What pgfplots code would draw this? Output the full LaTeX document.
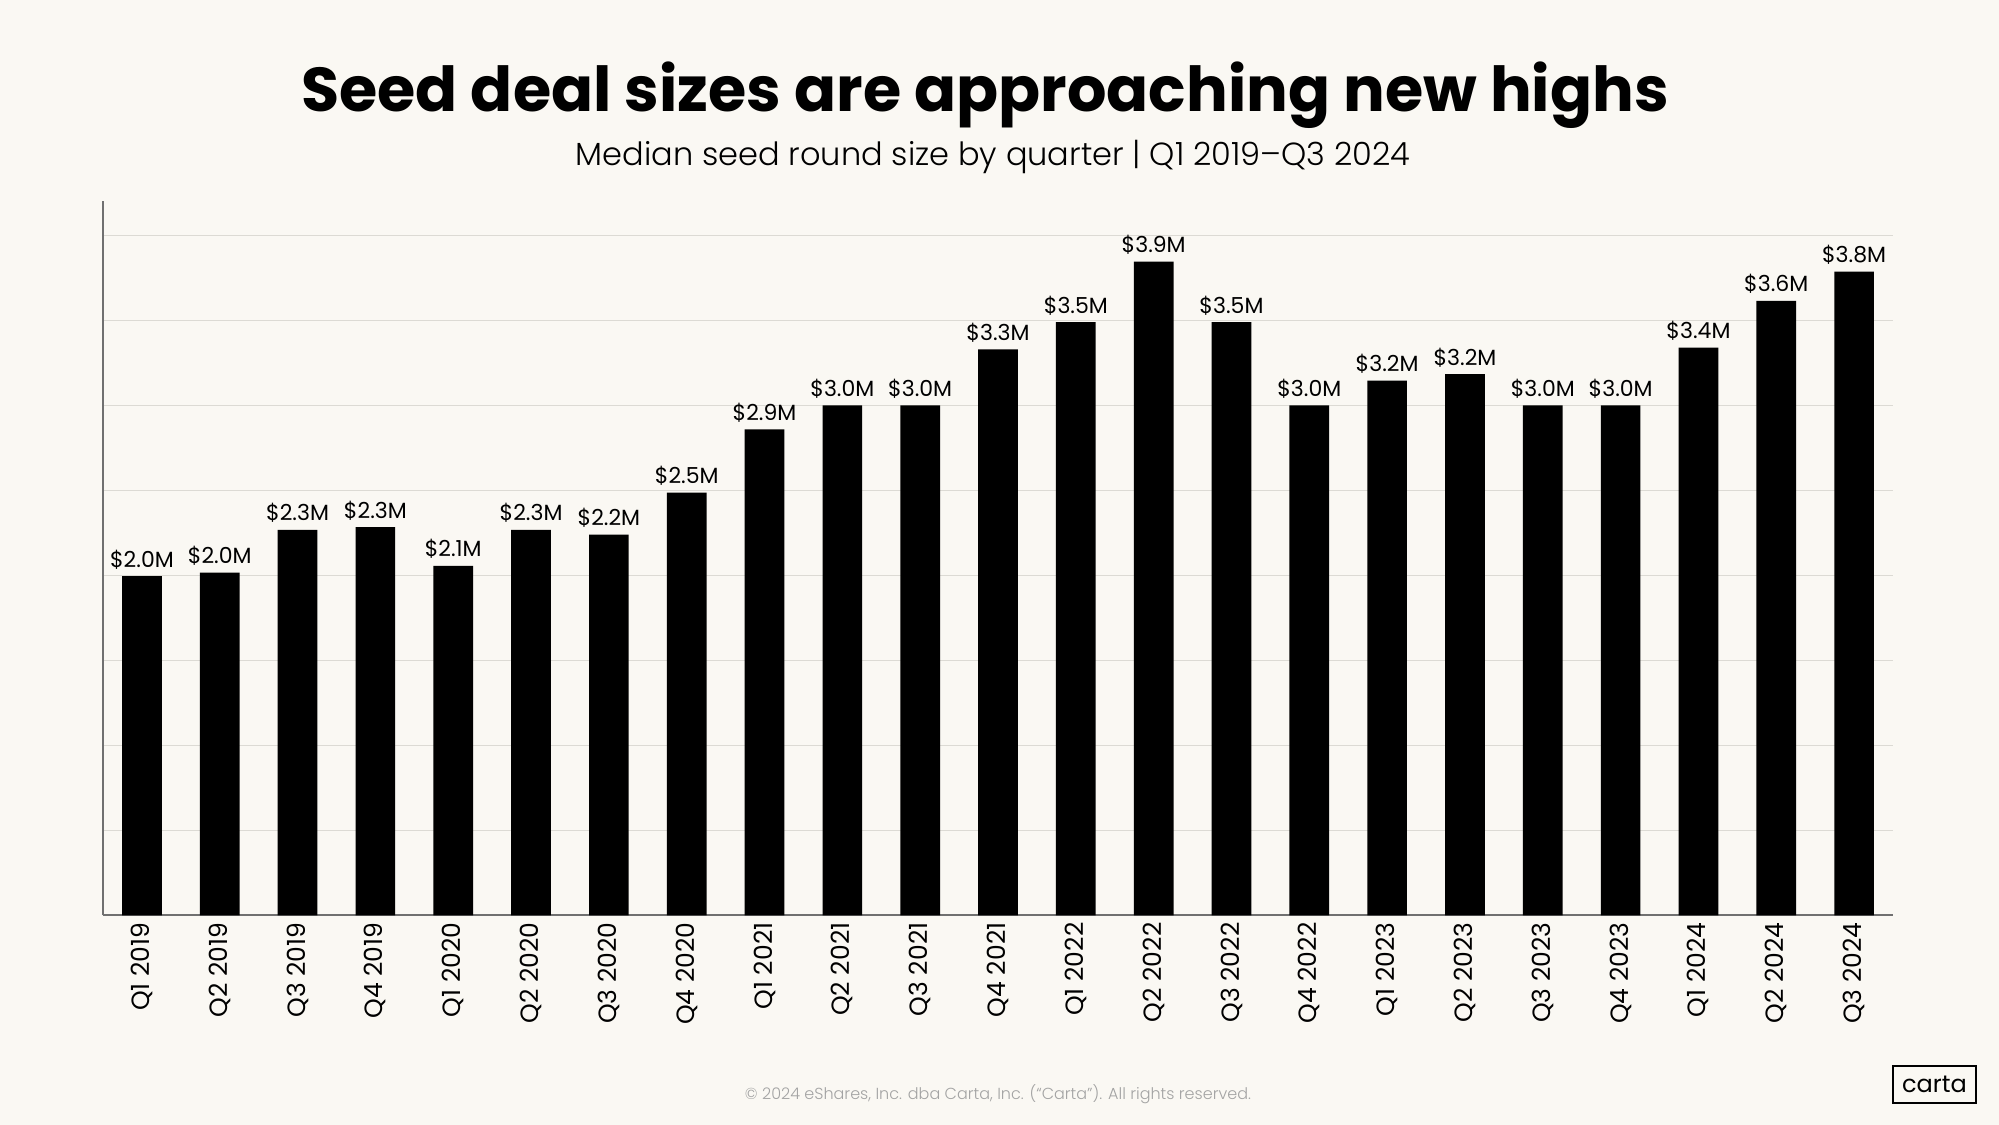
\documentclass[border=0pt]{standalone}
\usepackage{fontspec}
\setmainfont{Poppins}
\newfontfamily\lightfont{Poppins Light}
\usepackage{pgfplots}
\pgfplotsset{compat=1.18}
\definecolor{bg}{HTML}{FAF8F3}
\definecolor{gridc}{HTML}{DCDAD4}
\definecolor{axc}{HTML}{707070}
\definecolor{footc}{HTML}{A3A3A3}
\pgfplotstableread{
x y label
0 1.997 {\$2.0M}
1 2.017 {\$2.0M}
2 2.268 {\$2.3M}
3 2.285 {\$2.3M}
4 2.056 {\$2.1M}
5 2.268 {\$2.3M}
6 2.240 {\$2.2M}
7 2.487 {\$2.5M}
8 2.860 {\$2.9M}
9 3.000 {\$3.0M}
10 3.000 {\$3.0M}
11 3.330 {\$3.3M}
12 3.490 {\$3.5M}
13 3.846 {\$3.9M}
14 3.490 {\$3.5M}
15 3.000 {\$3.0M}
16 3.146 {\$3.2M}
17 3.185 {\$3.2M}
18 3.000 {\$3.0M}
19 3.000 {\$3.0M}
20 3.340 {\$3.4M}
21 3.616 {\$3.6M}
22 3.787 {\$3.8M}
}\seeddata
\begin{document}
\begin{tikzpicture}[x=1pt,y=1pt]
\fill[bg] (0,0) rectangle (999.5,562.5);
\useasboundingbox (0,0) rectangle (999.5,562.5);
\node[anchor=base, inner sep=0, font=\bfseries\fontsize{31}{36}\selectfont] at (492.5,506.5) {Seed deal sizes are approaching new highs};
\node[anchor=base, inner sep=0, font=\lightfont\fontsize{16}{20}\selectfont] at (496.5,479.5) {Median seed round size by quarter | Q1 2019–Q3 2024};
\node[anchor=base, inner sep=0, text=footc, font=\lightfont\fontsize{8}{9}\selectfont] at (499,12.5) {© 2024 eShares, Inc. dba Carta, Inc. (“Carta”). All rights reserved.};
\node[draw=black, line width=1pt, minimum width=41.5pt, minimum height=18.5pt, inner sep=0, font=\fontsize{12}{12}\selectfont] at (967.25,20.25) {carta};
\begin{axis}[
  at={(51.5pt,104.75pt)}, anchor=south west,
  width=895pt, height=357pt, scale only axis,
  ybar, bar width=0.51,
  xmin=-0.5, xmax=22.5, ymin=0, ymax=4.2,
  axis x line*=bottom, axis y line*=left,
  axis line style={axc, line width=1pt, -},
  ytick={0.5,1,1.5,2,2.5,3,3.5,4}, yticklabels={},
  ymajorgrids, grid style={gridc, line width=0.8pt},
  major tick length=0pt,
  xtick={0,...,22},
  xticklabels={Q1 2019,Q2 2019,Q3 2019,Q4 2019,Q1 2020,Q2 2020,Q3 2020,Q4 2020,Q1 2021,Q2 2021,Q3 2021,Q4 2021,Q1 2022,Q2 2022,Q3 2022,Q4 2022,Q1 2023,Q2 2023,Q3 2023,Q4 2023,Q1 2024,Q2 2024,Q3 2024},
  xticklabel style={rotate=90, anchor=east, font=\fontsize{12.5}{13}\selectfont},
  nodes near coords, point meta=explicit symbolic,
  every node near coord/.append style={font=\fontsize{11}{12}\selectfont, anchor=south, text=black},
]
\addplot[fill=black, draw=none] table[x=x, y=y, meta=label] {\seeddata};
\end{axis}
\end{tikzpicture}
\end{document}
